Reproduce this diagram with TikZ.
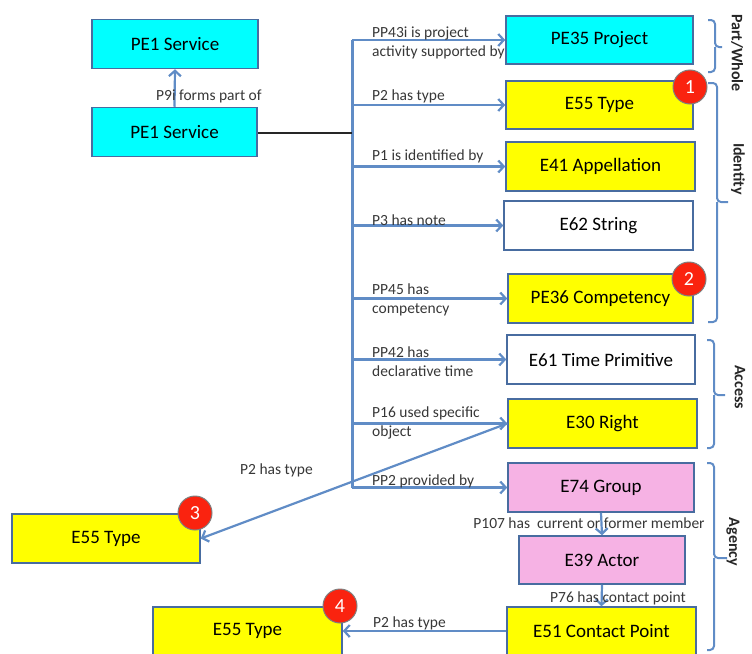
\documentclass[tikz,border=0pt]{standalone}
\usepackage{fontspec}
\setmainfont{Carlito}
\usetikzlibrary{arrows.meta}
\definecolor{linkblue}{RGB}{96,140,198}
\definecolor{edgeblue}{RGB}{72,108,160}
\definecolor{cyanfill}{RGB}{0,255,255}
\definecolor{yellowfill}{RGB}{255,255,0}
\definecolor{pinkfill}{RGB}{246,178,228}
\definecolor{badgered}{RGB}{250,35,15}
\definecolor{labelgray}{RGB}{55,55,55}

\begin{document}
\begin{tikzpicture}[x=1pt,y=-1pt,
  box/.style={draw=edgeblue,line width=1.5pt,minimum height=49pt,inner sep=0pt,
    font=\fontsize{19}{22}\selectfont},
  cyanbox/.style={box,fill=cyanfill},
  yellowbox/.style={box,fill=yellowfill},
  pinkbox/.style={box,fill=pinkfill},
  whitebox/.style={box,fill=white},
  lbl/.style={font=\fontsize{15.5}{19}\selectfont,text=labelgray,inner sep=0pt,align=left},
  link/.style={draw=linkblue,line width=2.2pt},
  arr/.style={link,-{Straight Barb[length=5.5pt,width=12pt]}},
  busline/.style={draw=linkblue,line width=3pt},
  darkline/.style={draw=black!85,line width=2.4pt},
  badge/.style={circle,fill=badgered,draw=black!50,line width=1pt,minimum size=34pt,
    inner sep=0pt,text=white,font=\fontsize{20}{22}\selectfont},
  bracket/.style={draw=linkblue,line width=2pt,rounded corners=4pt},
  grouplbl/.style={font=\bfseries\fontsize{16}{18}\selectfont,rotate=-90,inner sep=0pt,text=black!85}
]
\useasboundingbox (0,0) rectangle (752,653);
\clip (0,0) rectangle (752,653);

% service nodes on the left
\node[cyanbox,minimum width=166pt] (svcTop) at (175,44) {PE1 Service};
\node[cyanbox,minimum width=165pt] (svc) at (174.5,132) {PE1 Service};

% targets along the right column
\node[cyanbox,minimum width=187pt,minimum height=48pt] (pe35) at (599.5,40) {PE35 Project};
\node[yellowbox,minimum width=187pt,minimum height=48pt] (e55a) at (599.5,105) {E55 Type};
\node[yellowbox,minimum width=189pt] (e41) at (600.5,166.5) {E41 Appellation};
\node[whitebox,minimum width=189pt] (e62) at (598.5,225.5) {E62 String};
\node[yellowbox,minimum width=185pt] (pe36) at (600.5,298.5) {PE36 Competency};
\node[whitebox,minimum width=188pt] (e61) at (601,359.5) {E61 Time Primitive};
\node[yellowbox,minimum width=189pt] (e30) at (602.5,423.5) {E30 Right};
\node[pinkbox,minimum width=186pt] (e74) at (601,487.5) {E74 Group};
\node[pinkbox,minimum width=166pt,minimum height=48pt] (e39) at (602,560) {E39 Actor};
\node[yellowbox,minimum width=189pt,minimum height=48pt] (e51) at (601.5,631) {E51 Contact Point};

% types on the lower left
\node[yellowbox,minimum width=188pt] (e55c) at (106,538.5) {E55 Type};
\node[yellowbox,minimum width=189pt,minimum height=48pt] (e55d) at (247.5,631) {E55 Type};

% part-of link
\draw[arr] (svc.north) -- (svcTop.south);
\node[lbl,anchor=west] (lp9) at (156,96) {P9i forms part of};

% distribution bus
\coordinate (jtop) at (352,40);
\coordinate (jbot) at (352,487.5);
\coordinate (jmid) at (352,133);
\draw[busline] (jtop) -- (jbot);
\draw[darkline] (svc.east |- jmid) -- (jmid);

\draw[arr] (jtop) -- (pe35.west);
\draw[arr] (jtop |- e55a.west) -- (e55a.west);
\draw[arr] (jtop |- e41.west) -- (e41.west);
\draw[arr] (jtop |- e62.west) -- (e62.west);
\draw[arr] (jtop |- pe36.west) -- (pe36.west);
\draw[arr] (jtop |- e61.west) -- (e61.west);
\draw[arr] (jtop |- e30.west) -- (e30.west);
\draw[arr] (jbot) -- (e74.west);

\node[lbl,anchor=west] (l43) at (372,42.5) {PP43i is project\\activity supported by};
\node[lbl,anchor=west] (l2) at (372,96) {P2 has type};
\node[lbl,anchor=west] (l1) at (372,156) {P1 is identified by};
\node[lbl,anchor=west] (l3) at (372,220) {P3 has note};
\node[lbl,anchor=west] (l45) at (372,300) {PP45 has\\competency};
\node[lbl,anchor=west] (l42) at (372,361.5) {PP42 has\\declarative time};
\node[lbl,anchor=west] (l16) at (372,422.5) {P16 used specific\\object};
\node[lbl,anchor=west] (lpp2) at (372,481) {PP2 provided by};

% typing of the right
\draw[arr] (e30.west) -- (e55c.east);
\node[lbl,anchor=west] (l2c) at (240,470) {P2 has type};

% agency chain
\draw[arr] (e74.south) -- (e39.north);
\node[lbl] (l107) at (589,523) {P107 has\ \ current or former member};
\draw[arr] (e39.south) -- (e51.north);
\node[lbl] (l76) at (618,598) {P76 has contact point};
\draw[arr] (e51.west) -- (e55d.east);
\node[lbl,anchor=west] (l2d) at (373,623) {P2 has type};

% numbered markers
\node[badge] (b1) at (690,87) {1};
\node[badge] (b2) at (689,279) {2};
\node[badge] (b3) at (195,513) {3};
\node[badge] (b4) at (340,606) {4};

% grouping brackets
\draw[bracket] (708,20) -- (715,20) -- (715,47) -- (722,47);
\draw[bracket] (715,47) -- (715,72) -- (708,72);
\node[grouplbl] (gPart) at (737,53) {Part/Whole};

\draw[bracket] (708,83) -- (717,83) -- (717,202) -- (728,202);
\draw[bracket] (717,202) -- (717,322) -- (708,322);
\node[grouplbl] (gId) at (738,169) {Identity};

\draw[bracket] (707,340) -- (714,340) -- (714,395) -- (725,395);
\draw[bracket] (714,395) -- (714,448) -- (707,448);
\node[grouplbl] (gAcc) at (740,387) {Access};

\draw[bracket] (707,463) -- (714,463) -- (714,558) -- (727,558);
\draw[bracket] (714,558) -- (714,650) -- (707,650);
\node[grouplbl] (gAg) at (733,542) {Agency};
\end{tikzpicture}
\end{document}
